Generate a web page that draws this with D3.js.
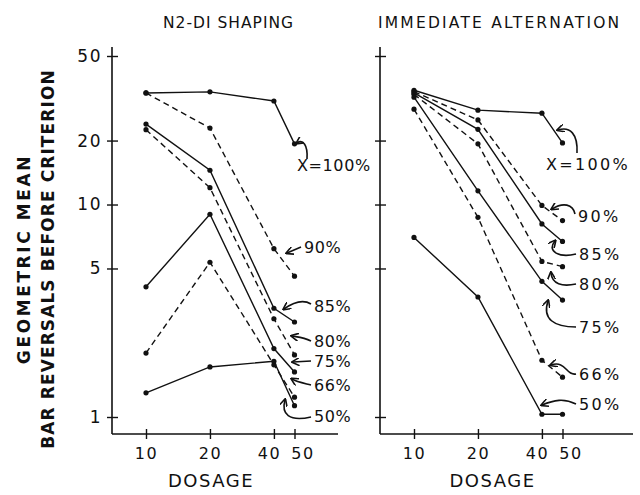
<!DOCTYPE html>
<html>
<head>
<meta charset="utf-8">
<script src="https://cdn.jsdelivr.net/npm/d3@7"></script>
<style>
  body { margin: 0; background: #fff; }
  svg { display: block; }
  text { font-family: "DejaVu Sans", sans-serif; fill: #111; }
</style>
</head>
<body>
<svg width="640" height="495"></svg>
<script>
// dosage levels (x) and the criterion each curve stands for
var dosage = [10, 20, 40, 50];
var criteria = ["X=100%", "90%", "85%", "80%", "75%", "66%", "50%"];
var dashed = [false, true, false, true, false, true, false];

// geometric mean bar reversals before criterion, one row per criterion
var shaping = [
  [33.5, 33.9, 30.7, 19.3],
  [33.5, 22.9, 6.2, 4.6],
  [23.9, 14.5, 3.25, 2.8],
  [22.5, 12.0, 2.9, 1.96],
  [4.1, 9.0, 2.1, 1.63],
  [2.0, 5.35, 1.76, 1.24],
  [1.30, 1.72, 1.83, 1.13]
];
var alternation = [
  [34.5, 27.8, 26.9, 19.5],
  [34.0, 25.0, 9.9, 8.4],
  [33.5, 22.6, 8.1, 6.7],
  [33.0, 19.3, 5.4, 5.1],
  [32.0, 11.6, 4.35, 3.55],
  [28.1, 8.7, 1.85, 1.54],
  [7.0, 3.67, 1.03, 1.03]
];

var yTicks = [1, 5, 10, 20, 50];
var xTicks = [10, 20, 40, 50];
var xLabelShift = {10: 0, 20: 0, 40: -5, 50: 8};

var svg = d3.select("svg");
var y = d3.scaleLog().domain([1, 50]).range([417, 56]);

// label placement: text anchor + arrow path relative to it
var leftNotes = [
  {x: 297, y: 171, arrow: "M10,-12 C11,-26 6,-32 0,-28"},
  {x: 301, y: 253, arrow: "M0,-6 L-14,0"},
  {x: 311, y: 312, arrow: "M0,-8 C-10,-14 -20,-8 -27,-3"},
  {x: 311, y: 347, arrow: "M0,-6 C-8,-10 -14,-10 -19,-11"},
  {x: 311, y: 367, arrow: "M0,-6 L-18,-5"},
  {x: 311, y: 391, arrow: "M0,-6 C-8,-8 -14,-9 -19,-12"},
  {x: 311, y: 422, arrow: "M0,-5 C-22,0 -30,-8 -26,-22"}
];
var rightNotes = [
  {x: 546, y: 170, arrow: "M31,-17 C32,-36 24,-44 12,-40"},
  {x: 575, y: 222, arrow: "M0,-8 C-2,-18 -12,-20 -23,-13"},
  {x: 576, y: 260, arrow: "M0,-6 C-16,-2 -30,-8 -21,-19"},
  {x: 576, y: 290, arrow: "M0,-6 C-14,-3 -24,-6 -25,-17"},
  {x: 576, y: 333, arrow: "M0,-6 C-22,-6 -34,-14 -28,-32"},
  {x: 576, y: 380, arrow: "M0,-6 C-10,-4 -10,-20 -25,-15"},
  {x: 576, y: 410, arrow: "M0,-6 C-12,-12 -22,-10 -34,-5"}
];

function drawPanel(opts) {
  var x = d3.scaleLog().domain([10, 50]).range([opts.x0 + 34, opts.x0 + 182.5]);
  var g = svg.append("g");
  var axisY = 434;

  // axis lines
  g.append("line").attr("x1", opts.x0).attr("x2", opts.x0)
    .attr("y1", 47).attr("y2", axisY).attr("stroke", "#111").attr("stroke-width", 1.6);
  g.append("line").attr("x1", opts.x0).attr("x2", opts.xEnd)
    .attr("y1", axisY).attr("y2", axisY).attr("stroke", "#111").attr("stroke-width", 1.6);

  var ya = g.append("g").attr("transform", "translate(" + opts.x0 + ",0)")
    .call(d3.axisLeft(y).tickValues(yTicks).tickSize(0).tickPadding(10)
      .tickFormat(opts.yLabels ? d3.format("d") : ""));
  ya.select(".domain").remove();
  ya.selectAll(".tick line").attr("x1", -5).attr("x2", 6).attr("stroke", "#111").attr("stroke-width", 1.4);
  ya.selectAll(".tick text").style("font-size", "17px").style("font-family", "DejaVu Sans")
    .attr("fill", "#111").attr("letter-spacing", 1.5);

  var xa = g.append("g").attr("transform", "translate(0," + axisY + ")")
    .call(d3.axisBottom(x).tickValues(xTicks).tickSize(0).tickPadding(14).tickFormat(d3.format("d")));
  xa.select(".domain").remove();
  xa.selectAll(".tick line").attr("y1", -5).attr("y2", 5).attr("stroke", "#111").attr("stroke-width", 1.4);
  xa.selectAll(".tick text").style("font-size", "16px").style("font-family", "DejaVu Sans")
    .attr("fill", "#111").attr("letter-spacing", 1.5)
    .attr("dx", function (d) { return xLabelShift[d]; });

  g.append("text").attr("x", (opts.x0 + opts.xEnd) / 2 - 14).attr("y", 487)
    .attr("text-anchor", "middle").style("font-size", "18px").attr("letter-spacing", 1.5)
    .text("DOSAGE");
  g.append("text").attr("x", opts.titleX).attr("y", 28)
    .style("font-size", "15.5px").attr("letter-spacing", opts.titleSpacing).text(opts.title);

  var line = d3.line().x(function (d, i) { return x(dosage[i]); }).y(function (d) { return y(d); });

  opts.data.forEach(function (row, k) {
    g.append("path").attr("d", line(row)).attr("fill", "none").attr("stroke", "#111")
      .attr("stroke-width", 1.4).attr("stroke-dasharray", dashed[k] ? "6,4" : null);
    g.selectAll(null).data(row).join("circle")
      .attr("cx", function (d, i) { return x(dosage[i]); })
      .attr("cy", function (d) { return y(d); })
      .attr("r", 2.6).attr("fill", "#111");
  });

  opts.notes.forEach(function (n, k) {
    var a = g.append("g").attr("transform", "translate(" + n.x + "," + n.y + ")");
    a.append("text").attr("x", k === 0 ? 0 : 3).attr("y", 0)
      .style("font-size", "16px").attr("letter-spacing", opts.noteSpacing).text(criteria[k]);
    a.append("path").attr("d", n.arrow).attr("fill", "none").attr("stroke", "#111")
      .attr("stroke-width", 1.6).attr("marker-end", "url(#head)");
  });
}

svg.append("defs").append("marker").attr("id", "head")
  .attr("viewBox", "0 0 10 10").attr("refX", 8).attr("refY", 5)
  .attr("markerWidth", 5).attr("markerHeight", 5).attr("orient", "auto")
  .append("path").attr("d", "M0,0 L10,5 L0,10").attr("fill", "none")
  .attr("stroke", "#111").attr("stroke-width", 2);

drawPanel({x0: 112, xEnd: 338, data: shaping, notes: leftNotes, yLabels: true,
  title: "N2-DI SHAPING", titleX: 163, titleSpacing: 1, noteSpacing: 0.6});
drawPanel({x0: 380, xEnd: 633, data: alternation, notes: rightNotes, yLabels: false,
  title: "IMMEDIATE ALTERNATION", titleX: 378, titleSpacing: 2.2, noteSpacing: 2.3});

// y axis title, two rotated lines
var yt = svg.append("g").attr("transform", "translate(0,259) rotate(-90)");
yt.append("text").attr("x", 0).attr("y", 30).attr("text-anchor", "middle")
  .style("font-size", "17px").style("font-weight", "bold").attr("letter-spacing", 2.6)
  .text("GEOMETRIC MEAN");
yt.append("text").attr("x", 0).attr("y", 54).attr("text-anchor", "middle")
  .style("font-size", "17px").style("font-weight", "bold").attr("letter-spacing", 1.1)
  .text("BAR REVERSALS BEFORE CRITERION");
</script>
</body>
</html>
